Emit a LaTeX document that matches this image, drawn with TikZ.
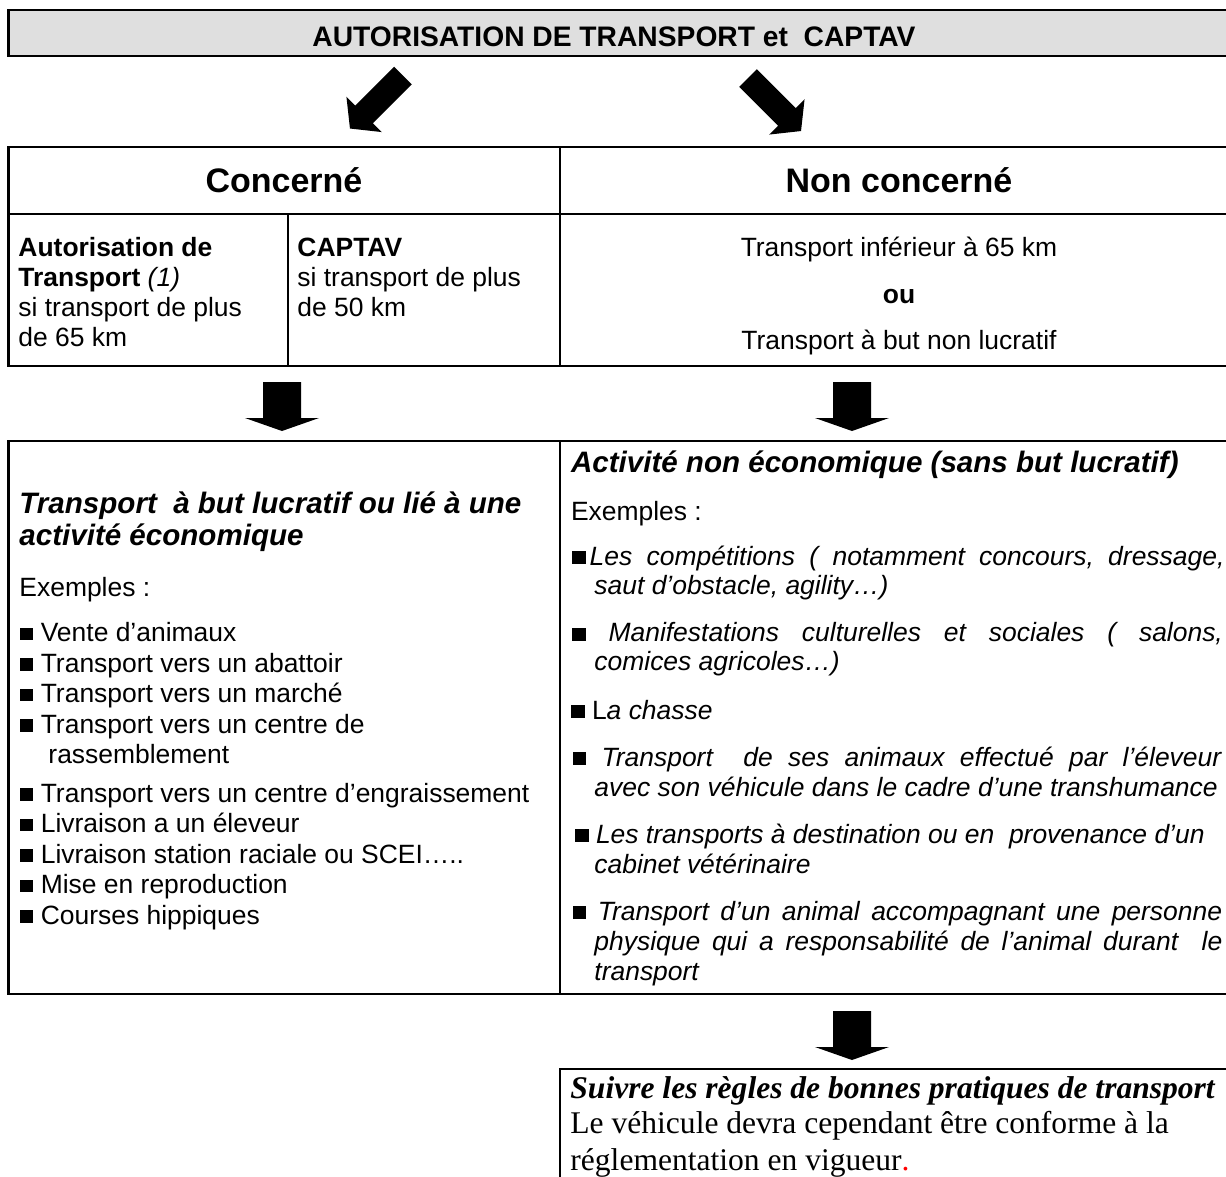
\documentclass[tikz,border=0pt]{standalone}
\usepackage{fontspec}
\setmainfont{Liberation Sans}
\newfontfamily\romain{Liberation Serif}
\usepackage{tikz}

\newlength{\px}
\setlength{\px}{0.45pt}
\newcommand{\corps}{\fontsize{11.9pt}{13.7pt}\selectfont}
\newcommand{\grandtitre}{\fontsize{12.7pt}{14pt}\selectfont\bfseries}
\newcommand{\entete}{\fontsize{15.3pt}{17pt}\selectfont\bfseries}
\newcommand{\rubrique}{\fontsize{13.3pt}{15pt}\selectfont\bfseries\itshape}
\newcommand{\finale}{\romain\fontsize{14.2pt}{16pt}\selectfont}
\newcommand{\puce}{\rule[0.04em]{0.5em}{0.48em}}
\newcommand{\justif}[2]{\makebox[#1\px][s]{#2}}
\hbadness=10000
\frenchspacing

\begin{document}
\begin{tikzpicture}[x=0.45pt, y=-0.45pt,
    texte/.style={inner sep=0pt, anchor=base west, font=\corps},
    cadre/.style={line width=1pt},
    trait/.style={line width=0.8pt},
    pics/fleche/.style={code={\fill (-19,0) -- (19,0) -- (19,36) -- (37,36) -- (0,49) -- (-37,36) -- (-19,36) -- cycle;}},
    pics/flecheoblique/.style={code={\fill (-12.5,0) -- (12.5,0) -- (12.5,55) -- (25,55) -- (0,75) -- (-25,55) -- (-12.5,55) -- cycle;}}]

        \useasboundingbox (0,0) rectangle (1226,1177);
        \clip (0,0) rectangle (1226,1177);

        % titre
        \draw[cadre, fill=gray!25] (8.5,10) rectangle (1240,56);
        \node[texte, anchor=base, font=\grandtitre] (titre) at (614,46.5) {AUTORISATION DE TRANSPORT et\ \ CAPTAV};

        \coordinate (dep1) at (403,75.5);
        \coordinate (dep2) at (748,78);
        \pic[rotate=-45] at (dep1) {flecheoblique};
        \pic[rotate=45] at (dep2) {flecheoblique};

        % concerne / non concerne
        \draw[cadre] (8.5,147) rectangle (1240,366);
        \draw[cadre] (8.5,214) -- (1240,214);
        \draw[trait] (560,147) -- (560,366);
        \draw[trait] (288,214) -- (288,366);

        \node[texte, anchor=base, font=\entete] (concerne) at (284,192.5) {Concerné};
        \node[texte, anchor=base, font=\entete] (nonconcerne) at (899,192.5) {Non concerné};

        \node[texte, font=\corps\bfseries] (autor1) at (18,256) {Autorisation de};
        \node[texte] (autor2) at (18,286.7) {\textbf{Transport} \textit{(1)}};
        \node[texte] (autor3) at (18,316.7) {si transport de plus};
        \node[texte] (autor4) at (18,346.7) {de 65 km};

        \node[texte, font=\corps\bfseries] (captav1) at (297,256) {CAPTAV};
        \node[texte] (captav2) at (297,286.7) {si transport de plus};
        \node[texte] (captav3) at (297,316.7) {de 50 km};

        \node[texte, anchor=base] (nc1) at (899,256) {Transport inférieur à 65 km};
        \node[texte, anchor=base, font=\corps\bfseries] (nc2) at (899,303.3) {ou};
        \node[texte, anchor=base] (nc3) at (899,349.3) {Transport à but non lucratif};

        \coordinate (dep3) at (282,382);
        \coordinate (dep4) at (852,382);
        \pic at (dep3) {fleche};
        \pic at (dep4) {fleche};

        % activites
        \draw[cadre] (8.5,440.7) rectangle (1240,994);
        \draw[trait] (560,440.7) -- (560,994);

        \node[texte, font=\rubrique] (eco1) at (19,513.5) {Transport\ \ à but lucratif ou lié à une};
        \node[texte, font=\rubrique] (eco2) at (19,545.7) {activité économique};
        \node[texte] (eco3) at (19,596) {Exemples :};
        \node[texte] (eco4) at (19.8,641.5) {\puce\ Vente d’animaux};
        \node[texte] (eco5) at (19.8,672) {\puce\ Transport vers un abattoir};
        \node[texte] (eco6) at (19.8,702.5) {\puce\ Transport vers un marché};
        \node[texte] (eco7) at (19.8,733) {\puce\ Transport vers un centre de};
        \node[texte] (eco8) at (48,763.5) {rassemblement};
        \node[texte] (eco9) at (19.8,802) {\puce\ Transport vers un centre d’engraissement};
        \node[texte] (eco10) at (19.8,832.5) {\puce\ Livraison a un éleveur};
        \node[texte] (eco11) at (19.8,863) {\puce\ Livraison station raciale ou SCEI…..};
        \node[texte] (eco12) at (19.8,893.5) {\puce\ Mise en reproduction};
        \node[texte] (eco13) at (19.8,924) {\puce\ Courses hippiques};

        \node[texte, font=\rubrique] (neco1) at (570.6,472.7) {Activité non économique (sans but lucratif)};
        \node[texte] (neco2) at (570.6,520) {Exemples :};
        \node[texte] (neco3) at (572,565) {\justif{652}{\puce\kern4\px\textit{Les compétitions ( notamment concours, dressage,}}};
        \node[texte] (neco4) at (594,594.5) {\textit{saut d’obstacle, agility…)}};
        \node[texte] (neco5) at (572,641.7) {\justif{650.5}{\puce\ \textit{Manifestations culturelles et sociales ( salons,}}};
        \node[texte] (neco6) at (594,670.5) {\textit{comices agricoles…)}};
        \node[texte] (neco7) at (571,719) {\puce\ L\textit{a chasse}};
        \node[texte] (neco8) at (572.7,766) {\justif{649}{\puce\ \textit{Transport\ \ de ses animaux effectué par l’éleveur}}};
        \node[texte] (neco9) at (594,796.5) {\textit{avec son véhicule dans le cadre d’une transhumance}};
        \node[texte] (neco10) at (575,843) {\puce\ \textit{Les transports à destination ou en\ \ provenance d’un}};
        \node[texte] (neco11) at (594,873) {\textit{cabinet vétérinaire}};
        \node[texte] (neco12) at (572.7,920) {\justif{649}{\puce\ \textit{Transport d’un animal accompagnant une personne}}};
        \node[texte] (neco13) at (594,950) {\justif{628}{\textit{physique qui a responsabilité de l’animal durant\ \ le}}};
        \node[texte] (neco14) at (594,980) {\textit{transport}};

        \coordinate (dep5) at (852,1011);
        \pic at (dep5) {fleche};

        % bonnes pratiques
        \draw[cadre] (560,1190) -- (560,1069) -- (1240,1069);
        \node[texte, font=\finale\bfseries\itshape] (regle1) at (570,1098.7) {Suivre les règles de bonnes pratiques de transport};
        \node[texte, font=\finale] (regle2) at (570,1133.7) {Le véhicule devra cependant être conforme à la};
        \node[texte, font=\finale] (regle3) at (570,1170) {réglementation en vigueur\textcolor{red}{.}};

    \end{tikzpicture}
\end{document}
